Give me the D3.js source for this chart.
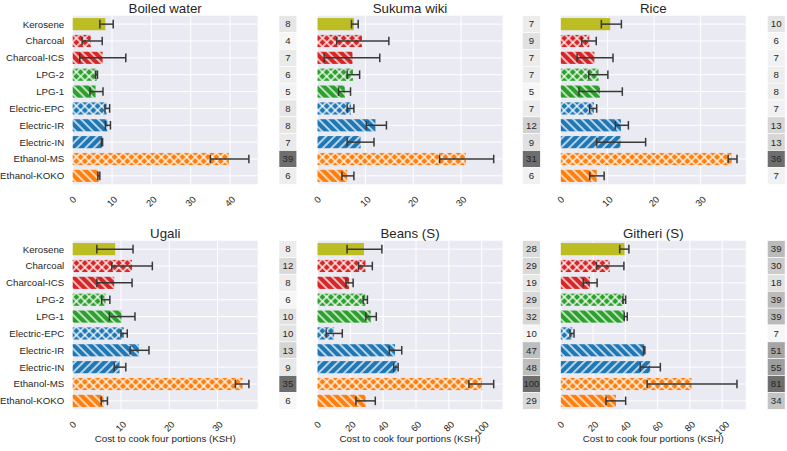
<!DOCTYPE html>
<html><head><meta charset="utf-8">
<script src="https://cdn.jsdelivr.net/npm/d3@7"></script>
<style>html,body{margin:0;padding:0;background:#fff;}svg{display:block;font-family:"Liberation Sans",Arial,sans-serif;}</style>
</head><body>
<svg id="chart" width="787" height="451"></svg>
<script>
const categories = ["Kerosene","Charcoal","Charcoal-ICS","LPG-2","LPG-1","Electric-EPC","Electric-IR","Electric-IN","Ethanol-MS","Ethanol-KOKO"];
const fuelColors = ["#bcbd22","#d62728","#d62728","#2ca02c","#2ca02c","#1f77b4","#1f77b4","#1f77b4","#ff7f0e","#ff7f0e"];
const hatches = ["", "x", "\\", "x", "\\", "x", "\\", "/", "x", "\\"];
const dishes = ["Boiled water","Sukuma wiki","Rice","Ugali","Beans (S)","Githeri (S)"];

const boiledMean = [8.3, 4.6, 7.6, 6.1, 5.8, 8.6, 8.8, 7.5, 39.7, 6.6];
const boiledLo   = [6.9, 2.4, 1.8, 5.8, 4.4, 8.2, 8.3, 7.3, 35.0, 6.4];
const boiledHi   = [10.3, 7.5, 13.5, 6.3, 7.7, 9.4, 9.6, 7.6, 44.8, 6.9];
const boiledBox  = [8,4,7,6,5,8,8,7,39,6];

const sukumaMean = [7.6, 9.3, 7.3, 7.4, 5.7, 7.0, 12.1, 9.0, 31.0, 6.2];
const sukumaLo   = [7.1, 4.0, 1.4, 6.2, 4.4, 6.2, 10.2, 6.2, 25.5, 5.1];
const sukumaHi   = [8.5, 14.9, 13.0, 8.8, 6.9, 7.6, 14.4, 11.8, 36.8, 7.6];
const sukumaBox  = [7,9,7,7,5,7,12,9,31,6];

const riceMean = [10.6, 6.1, 7.2, 8.1, 8.4, 7.1, 12.9, 12.8, 36.7, 7.7];
const riceLo   = [8.7, 4.5, 3.5, 6.0, 3.9, 6.2, 11.7, 7.7, 35.9, 6.2];
const riceHi   = [13.0, 7.6, 11.2, 10.1, 13.2, 7.7, 14.5, 18.2, 37.8, 9.3];
const riceBox  = [10,6,7,8,8,7,13,13,36,7];

const ugaliMean = [8.8, 12.3, 8.6, 6.8, 10.1, 10.6, 13.7, 9.7, 35.2, 6.4];
const ugaliLo   = [5.0, 8.1, 5.0, 6.0, 7.6, 10.0, 11.9, 8.6, 33.7, 5.9];
const ugaliHi   = [12.5, 16.5, 12.3, 7.7, 12.9, 11.3, 15.8, 11.0, 36.5, 7.2];
const ugaliBox  = [8,12,8,6,10,10,13,9,35,6];

const beansMean = [28.3, 29.2, 19.2, 29.1, 32.4, 10.1, 47.2, 48.3, 100.2, 29.3];
const beansLo   = [18.0, 25.0, 17.3, 27.8, 29.4, 5.3, 43.7, 46.4, 92.2, 23.4];
const beansHi   = [39.2, 33.4, 21.7, 30.4, 35.8, 15.1, 51.3, 49.1, 107.3, 35.2];
const beansBox  = [28,29,19,29,32,10,47,48,100,29];

const githeriMean = [39.5, 30.3, 18.1, 39.3, 39.6, 7.1, 51.7, 55.4, 81.0, 34.2];
const githeriLo   = [36.5, 22.1, 13.9, 38.5, 39.3, 5.7, 51.3, 49.2, 53.5, 28.0];
const githeriHi   = [42.2, 39.1, 22.5, 40.2, 41.2, 8.2, 52.1, 61.7, 109.2, 40.2];
const githeriBox  = [39,30,18,39,39,7,51,55,81,34];

const tickSets = [[0,10,20,30,40],[0,10,20,30],[0,10,20,30],[0,10,20,30],[0,20,40,60,80,100],[0,20,40,60,80,100]];
const xLabel = "Cost to cook four portions (KSH)";

const panels = [
  {mean: boiledMean, lo: boiledLo, hi: boiledHi, box: boiledBox},
  {mean: sukumaMean, lo: sukumaLo, hi: sukumaHi, box: sukumaBox},
  {mean: riceMean, lo: riceLo, hi: riceHi, box: riceBox},
  {mean: ugaliMean, lo: ugaliLo, hi: ugaliHi, box: ugaliBox},
  {mean: beansMean, lo: beansLo, hi: beansHi, box: beansBox},
  {mean: githeriMean, lo: githeriLo, hi: githeriHi, box: githeriBox}
];

const svg = d3.select("#chart");
const defs = svg.append("defs");
const P = 6;
function makePattern(id, color, type) {
  const pat = defs.append("pattern").attr("id", id).attr("patternUnits","userSpaceOnUse")
    .attr("width", P).attr("height", P)
    .attr("patternTransform", type === "/" ? "rotate(45)" : "rotate(-45)");
  pat.append("rect").attr("width", P).attr("height", P).attr("fill", color);
  pat.append("line").attr("x1", P/2).attr("x2", P/2).attr("y1", 0).attr("y2", P)
    .attr("stroke", "#fff").attr("stroke-width", 1.5).attr("stroke-opacity", 0.9);
  if (type === "x") {
    pat.append("line").attr("y1", P/2).attr("y2", P/2).attr("x1", 0).attr("x2", P)
      .attr("stroke", "#fff").attr("stroke-width", 1.5).attr("stroke-opacity", 0.9);
  }
}
const fillFor = categories.map((c, i) => {
  if (!hatches[i]) return fuelColors[i];
  const id = "pat" + i;
  makePattern(id, fuelColors[i], hatches[i]);
  return "url(#" + id + ")";
});

const plotLefts = [72.7, 317.5, 560.8];
const plotW = 185;
const plotTops = [15.7, 240.7];
const plotH = 168.6;
const boxXs = [279, 522.5, 767.3];
const boxW = 17.8;
const textColor = "#262626";

panels.forEach((p, k) => {
  const col = k % 3, row = Math.floor(k / 3);
  const x0 = plotLefts[col], y0 = plotTops[row];
  const xMax = d3.max(p.hi) * 1.05;
  const x = d3.scaleLinear().domain([0, xMax]).range([x0, x0 + plotW]);
  const y = d3.scaleBand().domain(categories).range([y0, y0 + plotH]);
  const g = svg.append("g");

  g.append("rect").attr("x", x0).attr("y", y0).attr("width", plotW).attr("height", plotH).attr("fill", "#eaeaf2");
  g.selectAll(".vg").data(tickSets[k]).join("line")
    .attr("x1", d => x(d)).attr("x2", d => x(d)).attr("y1", y0).attr("y2", y0 + plotH)
    .attr("stroke", "#fff").attr("stroke-width", 1);
  g.selectAll(".hg").data(categories).join("line")
    .attr("x1", x0).attr("x2", x0 + plotW)
    .attr("y1", d => y(d) + y.bandwidth()/2).attr("y2", d => y(d) + y.bandwidth()/2)
    .attr("stroke", "#fff").attr("stroke-width", 1);

  const bh = y.bandwidth() * 0.72;
  g.selectAll(".bar").data(categories).join("rect")
    .attr("x", x(0)).attr("y", d => y(d) + (y.bandwidth() - bh)/2)
    .attr("width", (d, i) => x(p.mean[i]) - x(0)).attr("height", bh)
    .attr("fill", (d, i) => fillFor[i]);

  const eb = g.selectAll(".eb").data(categories).join("g")
    .attr("stroke", "#383838").attr("stroke-width", 1.5);
  const cap = 4.3;
  eb.append("line").attr("x1", (d, i) => x(p.lo[i])).attr("x2", (d, i) => x(p.hi[i]))
    .attr("y1", d => y(d) + y.bandwidth()/2).attr("y2", d => y(d) + y.bandwidth()/2);
  eb.append("line").attr("x1", (d, i) => x(p.lo[i])).attr("x2", (d, i) => x(p.lo[i]))
    .attr("y1", d => y(d) + y.bandwidth()/2 - cap).attr("y2", d => y(d) + y.bandwidth()/2 + cap);
  eb.append("line").attr("x1", (d, i) => x(p.hi[i])).attr("x2", (d, i) => x(p.hi[i]))
    .attr("y1", d => y(d) + y.bandwidth()/2 - cap).attr("y2", d => y(d) + y.bandwidth()/2 + cap);

  g.append("text").attr("x", x0 + plotW/2).attr("y", y0 - 3).attr("text-anchor", "middle")
    .attr("font-size", 13.3).attr("fill", textColor).text(dishes[k]);

  if (col === 0) {
    g.selectAll(".cl").data(categories).join("text")
      .attr("x", x0 - 8.5).attr("y", d => y(d) + y.bandwidth()/2).attr("dy", "0.35em")
      .attr("text-anchor", "end").attr("font-size", 9.7).attr("fill", textColor).text(d => d);
  }

  const fs = 9.3;
  g.selectAll(".tl").data(tickSets[k]).join("text")
    .attr("font-size", fs).attr("fill", textColor).attr("text-anchor", "middle").attr("dy", "0.35em")
    .attr("transform", d => {
      const w = String(d).length * fs * 0.556;
      const h = fs * 0.72;
      const bb = (w + h) * 0.7071;
      return "translate(" + x(d) + "," + (y0 + plotH + 11 + bb/2) + ") rotate(-45)";
    })
    .text(d => d);

  if (row === 1) {
    g.append("text").attr("x", x0 + plotW/2).attr("y", 441.5).attr("text-anchor", "middle")
      .attr("font-size", 9.8).attr("fill", textColor).text(xLabel);
  }

  const ext = d3.extent(p.box);
  const shade = d3.scaleLinear().domain(ext).range(["#f6f6f6", "#6e6e6e"]).interpolate(d3.interpolateRgb);
  const bx = boxXs[col];
  g.selectAll(".bx").data(categories).join("rect")
    .attr("x", bx).attr("y", d => y(d)).attr("width", boxW).attr("height", y.bandwidth())
    .attr("fill", (d, i) => shade(p.box[i])).attr("stroke", "#fff").attr("stroke-width", 0.6);
  g.selectAll(".bt").data(categories).join("text")
    .attr("x", bx + boxW/2).attr("y", d => y(d) + y.bandwidth()/2).attr("dy", "0.35em")
    .attr("text-anchor", "middle").attr("font-size", 9.6).attr("fill", textColor)
    .text((d, i) => p.box[i]);
});
</script>
</body></html>
